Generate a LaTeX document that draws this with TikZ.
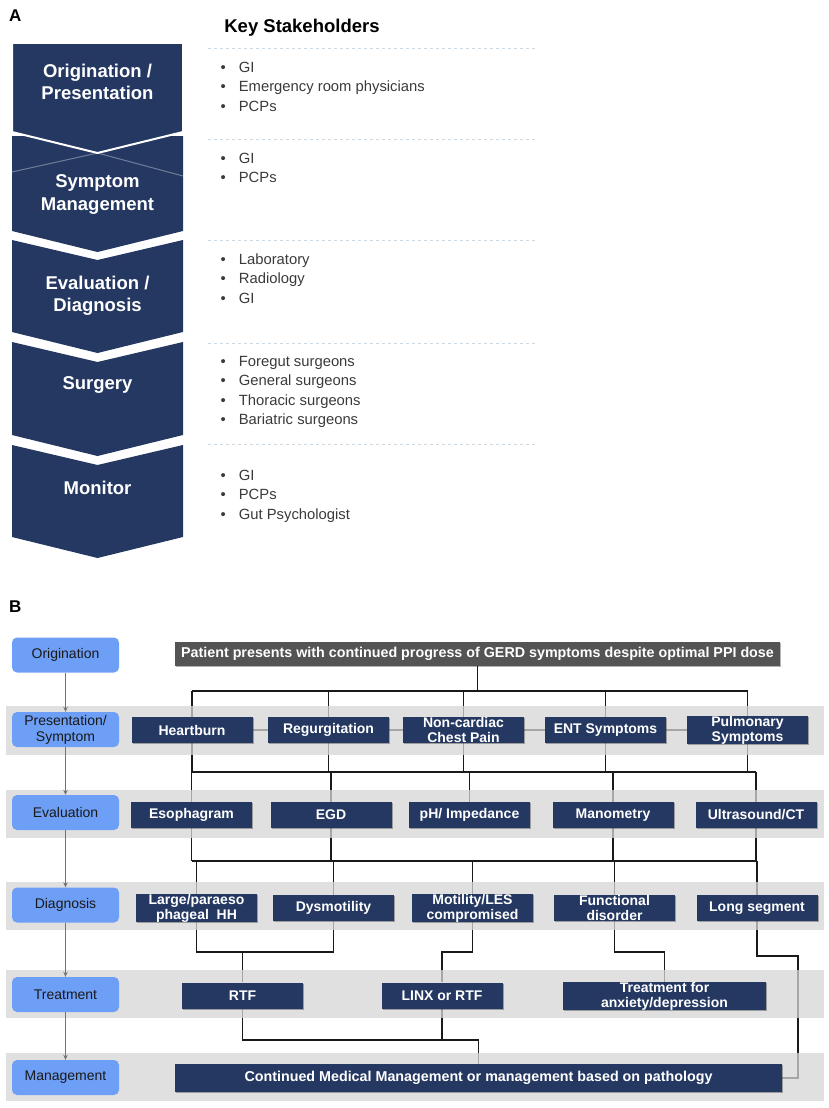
\documentclass[tikz,border=0pt]{standalone}
\usepackage{fontspec}
\setmainfont{Liberation Sans}
\usetikzlibrary{arrows.meta,shadows,calc}
\pgfdeclarelayer{connlayer}
\pgfdeclarelayer{bandlayer}
\pgfsetlayers{connlayer,bandlayer,main}
\definecolor{navy}{RGB}{36,56,98}
\definecolor{lblue}{RGB}{110,159,246}
\definecolor{bandc}{RGB}{214,214,214}
\definecolor{topc}{RGB}{84,84,84}
\definecolor{dashc}{RGB}{205,218,228}
\definecolor{skt}{RGB}{58,58,58}
\begin{document}
\begin{tikzpicture}[x=1pt,y=-1pt,
  nb/.style={fill=navy,text=white,font=\bfseries\fontsize{14}{15}\selectfont,
    minimum width=121pt,minimum height=26pt,inner xsep=2pt,inner ysep=0pt,align=center,
    drop shadow={shadow xshift=1.2pt,shadow yshift=-1.2pt,fill=black,opacity=.3}},
  lb/.style={fill=lblue,rounded corners=5pt,text=black!90,font=\fontsize{14}{16}\selectfont,
    minimum width=107pt,minimum height=35pt,inner sep=0pt,align=center},
  conn/.style={draw=black!90,line width=1.1pt},
  larr/.style={draw=black!55,line width=1.1pt,-{Stealth[length=5pt,width=4.5pt]}},
  band/.style={fill=bandc,fill opacity=.75},
  chev/.style={fill=navy},
  chevtext/.style={text=white,font=\bfseries\fontsize{18.5}{22.5}\selectfont,align=center},
  skl/.style={anchor=base west,inner sep=0pt,text=skt,font=\fontsize{14.8}{19.6}\selectfont},
  dline/.style={draw=dashc,line width=1pt,dash pattern=on 3pt off 3pt},
  lett/.style={font=\bfseries\fontsize{17}{20}\selectfont,anchor=west,inner sep=0pt}
]
\useasboundingbox (0,0) rectangle (829,1108);

% ---------------- Panel A ----------------
\node[lett] (la) at (9,16) {A};
\node[font=\bfseries\fontsize{18.5}{21}\selectfont,inner sep=0pt] (ks) at (302,28) {Key Stakeholders};

% chevrons
\fill[chev] (12,136) -- (183,136) -- (183,231) -- (97.5,252) -- (12,231) -- cycle;
\draw[white,opacity=.35,line width=1pt] (12,172) -- (97.5,153) -- (183,176);
\fill[chev,draw=white,line width=2pt] (12,43) -- (183,43) -- (183,132) -- (97.5,153) -- (12,132) -- cycle;
\fill[chev] (12,240) -- (97.5,260) -- (183,240) -- (183,332) -- (97.5,353) -- (12,332) -- cycle;
\fill[chev] (12,342) -- (97.5,362) -- (183,342) -- (183,435) -- (97.5,456) -- (12,435) -- cycle;
\fill[chev] (12,445) -- (97.5,465) -- (183,445) -- (183,537) -- (97.5,558) -- (12,537) -- cycle;

\node[chevtext] (c1) at (97.5,82) {Origination /\\Presentation};
\node[chevtext] (c2) at (97.5,194.5) {Symptom\\Management};
\node[chevtext] (c3) at (97.5,296) {Evaluation /\\Diagnosis};
\node[chevtext] (c4) at (97.5,385) {Surgery};
\node[chevtext] (c5) at (97.5,488) {Monitor};

% dashed separators
\foreach \yy in {49,139,240,343,444} \draw[dline] (208,\yy) -- (537,\yy);

% stakeholder lists
\node[skl] (s1) at (220.5,72) {\begin{tabular}[t]{@{}l@{\hspace{13pt}}l@{}}•&GI\\•&Emergency room physicians\\•&PCPs\end{tabular}};
\node[skl] (s2) at (220.5,163) {\begin{tabular}[t]{@{}l@{\hspace{13pt}}l@{}}•&GI\\•&PCPs\end{tabular}};
\node[skl] (s3) at (220.5,264) {\begin{tabular}[t]{@{}l@{\hspace{13pt}}l@{}}•&Laboratory\\•&Radiology\\•&GI\end{tabular}};
\node[skl] (s4) at (220.5,366) {\begin{tabular}[t]{@{}l@{\hspace{13pt}}l@{}}•&Foregut surgeons\\•&General surgeons\\•&Thoracic surgeons\\•&Bariatric surgeons\end{tabular}};
\node[skl] (s5) at (220.5,480) {\begin{tabular}[t]{@{}l@{\hspace{13pt}}l@{}}•&GI\\•&PCPs\\•&Gut Psychologist\end{tabular}};

% ---------------- Panel B ----------------
\node[lett] (lbB) at (9,607) {B};

% bands
\begin{pgfonlayer}{bandlayer}
\fill[band] (6,706) rectangle (824,755);
\fill[band] (6,790) rectangle (824,838);
\fill[band] (6,882) rectangle (824,930);
\fill[band] (6,970) rectangle (824,1018);
\fill[band] (6,1053) rectangle (824,1101);
\end{pgfonlayer}

% left column
\node[lb] (lo) at (65.5,655) {Origination};
\node[lb] (lp) at (65.5,729.5) {Presentation/\\Symptom};
\node[lb] (le) at (65.5,812.5) {Evaluation};
\node[lb] (ld) at (65.5,905) {Diagnosis};
\node[lb] (lt) at (65.5,994.5) {Treatment};
\node[lb] (lm) at (65.5,1077.5) {Management};
\draw[larr] (lo.south) -- (lp.north);
\draw[larr] (lp.south) -- (le.north);
\draw[larr] (le.south) -- (ld.north);
\draw[larr] (ld.south) -- (lt.north);
\draw[larr] (lt.south) -- (lm.north);

% top box
\node[nb,fill=topc,minimum width=605pt,minimum height=24pt,font=\bfseries\fontsize{14.3}{15}\selectfont] (top) at (477.5,654)
  {Patient presents with continued progress of GERD symptoms despite optimal PPI dose};

% presentation row
\node[nb] (hb) at (192,730) {Heartburn};
\node[nb] (reg) at (328.5,730) {Regurgitation};
\node[nb] (ncp) at (463.5,730) {Non-cardiac\\Chest Pain};
\node[nb] (ent) at (605.5,730) {ENT Symptoms};
\node[nb] (pul) at (747.5,730) {Pulmonary\\Symptoms};

% evaluation row
\node[nb] (eso) at (191.5,815) {Esophagram};
\node[nb] (egd) at (331,815) {EGD};
\node[nb] (ph) at (469.5,815) {pH/ Impedance};
\node[nb] (man) at (613,815) {Manometry};
\node[nb] (us) at (756,815) {Ultrasound/CT};

% diagnosis row
\node[nb] (lhh) at (196.5,908) {Large/paraeso\\phageal\ \ HH};
\node[nb] (dys) at (333.5,908) {Dysmotility};
\node[nb] (mot) at (472.5,908) {Motility/LES\\compromised};
\node[nb] (fun) at (614.5,908) {Functional\\disorder};
\node[nb] (lng) at (757,908) {Long segment};

% treatment row
\node[nb] (rtf) at (242.5,995.5) {RTF};
\node[nb] (linx) at (442,995.5) {LINX or RTF};
\node[nb,minimum width=203pt] (tad) at (664.5,996) {Treatment for\\anxiety/depression};

% management
\node[nb,minimum width=607pt,minimum height=28pt,font=\bfseries\fontsize{14.3}{15}\selectfont] (mg) at (478.5,1078)
  {Continued Medical Management or management based on pathology};

% connectors
\begin{pgfonlayer}{connlayer}
\coordinate (y1) at (0,691);
\coordinate (y2) at (0,772);
\coordinate (y3) at (0,861);
\coordinate (y4) at (0,952);
\coordinate (y5) at (0,1040);
\coordinate (lsr) at (798,956);
% origination -> presentation
\draw[conn] (top.south) -- (top.south |- y1);
\draw[conn] (hb.north |- y1) -- (pul.north |- y1);
\foreach \n in {hb,reg,ncp,ent,pul} \draw[conn] (\n.north |- y1) -- (\n.north);
% side links within presentation row
\draw[conn] (hb.east) -- (reg.west);
\draw[conn] (reg.east) -- (ncp.west);
\draw[conn] (ncp.east) -- (ent.west);
\draw[conn] (ent.east) -- (pul.west);
% presentation -> evaluation
\foreach \n in {hb,reg,ncp,ent,pul} \draw[conn] (\n.south) -- (\n.south |- y2);
\draw[conn] (hb.south |- y2) -- (us.north |- y2);
\foreach \n in {eso,egd,ph,man,us} \draw[conn] (\n.north |- y2) -- (\n.north);
% evaluation -> diagnosis
\foreach \n in {eso,egd,man,us} \draw[conn] (\n.south) -- (\n.south |- y3);
\draw[conn] (eso.south |- y3) -- (lng.north |- y3);
\foreach \n in {lhh,dys,mot,fun,lng} \draw[conn] (\n.north |- y3) -- (\n.north);
% diagnosis -> treatment
\draw[conn] (lhh.south) -- (lhh.south |- y4) -- (dys.south |- y4) -- (dys.south);
\draw[conn] (rtf.north |- y4) -- (rtf.north);
\draw[conn] (mot.south) -- (mot.south |- y4) -- (linx.north |- y4) -- (linx.north);
\draw[conn] (fun.south) -- (fun.south |- y4) -- (tad.north |- y4) -- (tad.north);
\draw[conn] (lng.south) |- (lsr) |- (mg.east);
% treatment -> management
\draw[conn] (rtf.south) |- (linx.south |- y5);
\draw[conn] (linx.south) |- (mg.north |- y5) -- (mg.north);
\end{pgfonlayer}
\end{tikzpicture}
\end{document}
